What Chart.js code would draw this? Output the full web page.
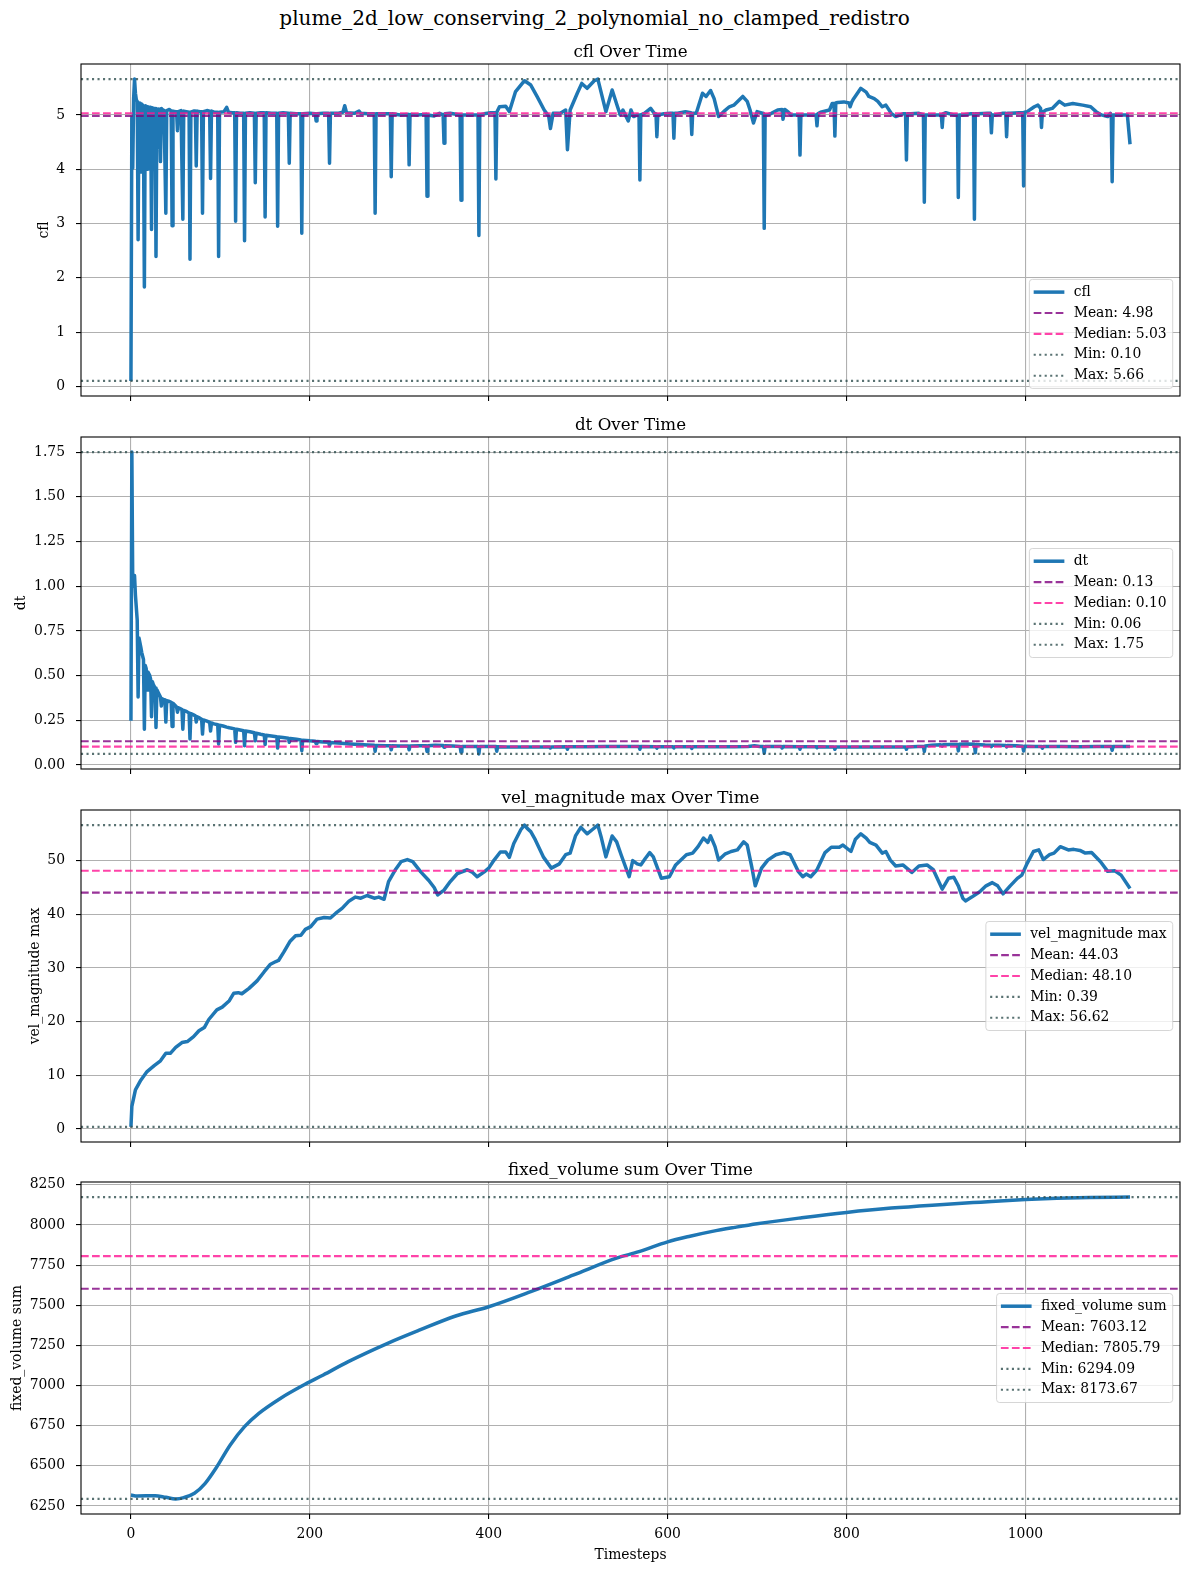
<!DOCTYPE html>
<html>
<head>
<meta charset="utf-8">
<title>plume_2d_low_conserving_2_polynomial_no_clamped_redistro</title>
<script src="https://cdn.jsdelivr.net/npm/chart.js@4.4.1/dist/chart.umd.min.js"></script>
<style>
  html, body { margin: 0; padding: 0; background: #fff; }
  body { width: 1189px; height: 1572px; position: relative; overflow: hidden; font-family: 'DejaVu Serif', serif; }
  #suptitle { position: absolute; left: 0; top: 5px; width: 1189px; text-align: center; font-size: 20px; line-height: 26px; color: #000; }
  canvas { position: absolute; left: 0; }
</style>
</head>
<body>
<div id="suptitle">plume_2d_low_conserving_2_polynomial_no_clamped_redistro</div>
<canvas id="cflChart"></canvas>
<canvas id="dtChart"></canvas>
<canvas id="velChart"></canvas>
<canvas id="volChart"></canvas>
<script>
Chart.defaults.font.family = "'DejaVu Serif', serif";
Chart.defaults.color = '#000';

// cfl per timestep
const cflSteps = [
  0, 1, 2, 3, 4, 5, 6, 7, 8, 9,
  10, 11, 12, 13, 14, 15, 16, 17, 18, 19,
  20, 21, 22, 23, 24, 25, 26, 27, 28, 29,
  30, 31, 32, 33, 34, 35, 37, 38, 39, 40,
  43, 45, 46, 47, 50, 51, 52, 53, 56, 57,
  58, 59, 62, 65, 66, 67, 70, 72, 73, 74,
  77, 79, 80, 81, 85, 88, 89, 90, 93, 97,
  98, 99, 104, 107, 109, 113, 116, 117, 118, 122,
  126, 127, 128, 133, 138, 139, 140, 145, 149, 150,
  151, 157, 163, 164, 165, 170, 176, 177, 178, 185,
  190, 191, 192, 200, 206, 207, 208, 215, 221, 222,
  223, 232, 237, 239, 241, 250, 255, 257, 265, 272,
  273, 274, 282, 290, 291, 292, 301, 310, 311, 312,
  320, 330, 331, 332, 339, 345, 349, 350, 351, 357,
  368, 369, 370, 376, 388, 389, 390, 395, 402, 407,
  408, 409, 412, 419, 423, 430, 440, 447, 454, 462,
  467, 469, 472, 480, 486, 488, 491, 499, 504, 510,
  518, 522, 531, 538, 544, 547, 550, 556, 559, 562,
  566, 568, 569, 570, 574, 581, 585, 587, 588, 589,
  596, 603, 606, 607, 608, 611, 620, 626, 627, 628,
  632, 639, 643, 648, 652, 657, 664, 669, 674, 684,
  689, 692, 696, 700, 706, 707, 708, 709, 712, 716,
  723, 728, 729, 731, 735, 738, 745, 747, 748, 749,
  753, 762, 766, 767, 768, 771, 781, 784, 786, 787,
  788, 790, 797, 803, 804, 806, 808, 816, 822, 825,
  831, 835, 840, 844, 850, 855, 863, 866, 867, 868,
  872, 881, 886, 887, 888, 891, 902, 906, 907, 908,
  911, 920, 924, 925, 926, 930, 939, 942, 943, 944,
  947, 958, 961, 962, 963, 966, 975, 978, 979, 980,
  983, 993, 997, 998, 999, 1002, 1010, 1014, 1017, 1018,
  1019, 1023, 1030, 1038, 1044, 1053, 1064, 1073, 1079, 1085,
  1092, 1095, 1096, 1097, 1098, 1101, 1114, 1117
];
const cflValues = [
  0.10, 4.95, 4.02, 5.30, 5.66, 5.40, 5.28, 5.25, 2.70, 5.22,
  5.20, 3.95, 5.20, 5.18, 4.60, 1.83, 5.17, 5.16, 4.00, 5.15,
  4.30, 5.14, 5.14, 2.89, 5.13, 4.10, 5.12, 5.12, 2.39, 5.11,
  4.40, 5.11, 5.10, 4.14, 5.12, 5.10, 5.08, 5.08, 3.19, 5.08,
  5.10, 5.07, 2.96, 5.07, 5.06, 5.06, 4.71, 5.06, 5.08, 5.08,
  3.08, 5.07, 5.06, 5.05, 2.34, 5.05, 5.07, 5.07, 4.06, 5.07,
  5.06, 5.06, 3.19, 5.06, 5.08, 5.07, 3.83, 5.07, 5.05, 5.05,
  2.39, 5.05, 5.06, 5.14, 5.05, 5.04, 5.04, 3.04, 5.04, 5.03,
  5.03, 2.68, 5.03, 5.04, 5.03, 3.75, 5.03, 5.04, 5.04, 3.12,
  5.04, 5.03, 5.03, 2.95, 5.03, 5.04, 5.03, 4.11, 5.03, 5.02,
  5.02, 2.82, 5.02, 5.03, 5.02, 4.89, 5.02, 5.03, 5.03, 4.11,
  5.03, 5.03, 5.05, 5.17, 5.04, 5.03, 5.07, 5.03, 5.02, 5.02,
  3.19, 5.02, 5.02, 5.02, 3.86, 5.02, 5.00, 5.01, 4.08, 5.01,
  5.00, 5.01, 3.50, 5.00, 4.98, 5.03, 5.00, 4.48, 5.02, 5.03,
  5.00, 3.43, 5.00, 5.00, 5.00, 2.78, 5.00, 5.02, 5.04, 5.04,
  3.82, 5.05, 5.15, 5.16, 5.06, 5.43, 5.63, 5.55, 5.34, 5.09,
  4.98, 4.75, 5.03, 5.03, 5.09, 4.36, 5.09, 5.40, 5.58, 5.49,
  5.63, 5.66, 5.06, 5.46, 5.15, 5.00, 5.09, 4.89, 5.09, 4.97,
  5.00, 5.00, 3.80, 5.00, 5.03, 5.12, 5.03, 5.02, 4.60, 5.00,
  5.02, 5.03, 5.03, 4.57, 5.03, 5.03, 5.06, 5.04, 4.64, 5.03,
  5.03, 5.40, 5.34, 5.45, 5.30, 4.97, 5.08, 5.15, 5.18, 5.34,
  5.25, 5.10, 4.85, 5.06, 5.03, 5.03, 2.91, 5.00, 5.00, 5.03,
  5.09, 5.10, 4.92, 5.10, 5.05, 5.00, 5.00, 5.00, 4.26, 5.00,
  5.00, 5.00, 5.00, 4.80, 5.02, 5.05, 5.09, 5.21, 5.21, 4.61,
  5.22, 5.23, 5.24, 5.22, 5.15, 5.24, 5.30, 5.49, 5.42, 5.34,
  5.30, 5.25, 5.15, 5.18, 5.03, 4.97, 5.02, 5.02, 4.17, 5.02,
  5.02, 5.03, 5.00, 3.39, 5.00, 5.00, 5.00, 5.00, 4.77, 5.02,
  5.04, 5.00, 5.00, 3.48, 5.00, 5.00, 5.02, 5.02, 3.08, 5.02,
  5.02, 5.03, 5.03, 4.67, 5.00, 5.00, 5.03, 5.03, 4.60, 5.03,
  5.03, 5.04, 5.04, 3.69, 5.05, 5.06, 5.15, 5.18, 5.12, 4.77,
  5.05, 5.09, 5.12, 5.25, 5.18, 5.21, 5.18, 5.15, 5.06, 5.00,
  4.97, 5.03, 5.00, 3.77, 5.00, 5.00, 5.00, 4.46
];

// dt per timestep
const dtSteps = [
  0, 1, 2, 3, 4, 5, 7, 8, 9, 11,
  12, 14, 15, 16, 17, 18, 19, 21, 22, 23,
  24, 25, 26, 27, 28, 29, 31, 32, 33, 34,
  35, 37, 38, 39, 40, 42, 45, 46, 47, 50,
  51, 52, 53, 55, 57, 58, 59, 62, 65, 66,
  67, 70, 72, 73, 74, 77, 79, 80, 81, 85,
  88, 89, 90, 93, 97, 98, 99, 103, 107, 110,
  116, 117, 118, 122, 126, 127, 128, 133, 138, 139,
  140, 145, 149, 150, 151, 157, 163, 164, 165, 170,
  176, 177, 178, 185, 190, 191, 192, 200, 206, 207,
  208, 215, 221, 222, 223, 235, 245, 255, 265, 272,
  273, 274, 285, 290, 291, 292, 300, 310, 311, 312,
  322, 330, 331, 332, 340, 349, 350, 351, 360, 368,
  369, 370, 380, 388, 389, 390, 400, 408, 409, 410,
  420, 440, 460, 468, 469, 470, 487, 488, 489, 510,
  530, 555, 568, 569, 570, 587, 588, 589, 606, 607,
  608, 626, 627, 628, 650, 675, 690, 697, 703, 707,
  708, 709, 720, 727, 728, 729, 747, 748, 749, 766,
  767, 768, 786, 787, 788, 810, 830, 850, 866, 867,
  868, 880, 886, 887, 888, 895, 905, 907, 908, 915,
  924, 925, 926, 935, 943, 944, 945, 955, 961, 962,
  963, 970, 978, 979, 980, 990, 997, 998, 999, 1010,
  1018, 1019, 1020, 1040, 1060, 1080, 1096, 1097, 1098, 1117
];
const dtValues = [
  0.248, 1.75, 1.00, 1.03, 1.06, 0.95, 0.81, 0.38, 0.71, 0.66,
  0.63, 0.59, 0.20, 0.556, 0.54, 0.42, 0.52, 0.50, 0.48, 0.27,
  0.465, 0.45, 0.44, 0.43, 0.21, 0.42, 0.40, 0.39, 0.38, 0.33,
  0.37, 0.365, 0.362, 0.24, 0.36, 0.357, 0.35, 0.215, 0.345, 0.33,
  0.325, 0.295, 0.32, 0.315, 0.31, 0.20, 0.305, 0.30, 0.29, 0.146,
  0.287, 0.28, 0.275, 0.24, 0.27, 0.262, 0.256, 0.173, 0.252, 0.245,
  0.238, 0.19, 0.235, 0.23, 0.225, 0.118, 0.222, 0.218, 0.212, 0.208,
  0.202, 0.127, 0.20, 0.196, 0.192, 0.108, 0.19, 0.186, 0.18, 0.136,
  0.178, 0.172, 0.168, 0.114, 0.166, 0.162, 0.158, 0.095, 0.157, 0.154,
  0.15, 0.127, 0.148, 0.144, 0.14, 0.08, 0.139, 0.135, 0.133, 0.12,
  0.132, 0.129, 0.127, 0.108, 0.126, 0.122, 0.118, 0.115, 0.112, 0.11,
  0.077, 0.109, 0.107, 0.107, 0.085, 0.107, 0.106, 0.106, 0.085, 0.106,
  0.107, 0.108, 0.075, 0.108, 0.11, 0.109, 0.099, 0.108, 0.106, 0.104,
  0.072, 0.104, 0.103, 0.103, 0.062, 0.103, 0.103, 0.103, 0.077, 0.102,
  0.101, 0.10, 0.101, 0.101, 0.095, 0.101, 0.102, 0.088, 0.102, 0.102,
  0.103, 0.104, 0.103, 0.088, 0.103, 0.102, 0.094, 0.102, 0.102, 0.095,
  0.102, 0.102, 0.093, 0.102, 0.102, 0.102, 0.104, 0.108, 0.104, 0.103,
  0.066, 0.103, 0.104, 0.103, 0.095, 0.103, 0.102, 0.088, 0.102, 0.102,
  0.097, 0.102, 0.101, 0.088, 0.101, 0.101, 0.101, 0.101, 0.101, 0.088,
  0.101, 0.103, 0.104, 0.076, 0.106, 0.11, 0.113, 0.106, 0.113, 0.114,
  0.115, 0.079, 0.116, 0.118, 0.116, 0.068, 0.115, 0.112, 0.111, 0.103,
  0.111, 0.11, 0.109, 0.101, 0.109, 0.107, 0.105, 0.078, 0.105, 0.104,
  0.103, 0.094, 0.103, 0.103, 0.102, 0.103, 0.103, 0.082, 0.103, 0.103
];

// vel_magnitude max per timestep
const velSteps = [
  0, 1, 5, 11, 18, 26, 33, 39, 44, 50,
  57, 63, 70, 76, 82, 87, 96, 102, 110, 115,
  120, 124, 132, 141, 149, 156, 162, 165, 171, 178,
  184, 190, 195, 201, 208, 216, 223, 229, 236, 244,
  251, 257, 264, 272, 277, 283, 288, 296, 302, 309,
  315, 324, 333, 339, 343, 350, 357, 365, 376, 382,
  387, 395, 400, 406, 413, 419, 423, 428, 436, 440,
  443, 447, 452, 461, 470, 479, 486, 491, 497, 503,
  510, 516, 522, 526, 531, 538, 543, 548, 557, 561,
  566, 570, 575, 580, 584, 593, 602, 609, 621, 628,
  634, 640, 645, 648, 653, 657, 664, 671, 678, 685,
  689, 694, 698, 705, 712, 721, 730, 737, 746, 751,
  755, 760, 767, 776, 783, 792, 796, 805, 810, 816,
  822, 826, 833, 840, 844, 849, 855, 863, 873, 881,
  890, 897, 907, 914, 920, 925, 930, 933, 940, 949,
  956, 963, 969, 975, 983, 991, 996, 1002, 1009, 1015,
  1020, 1027, 1032, 1039, 1048, 1054, 1061, 1067, 1074, 1084,
  1092, 1100, 1107, 1117
];
const velValues = [
  0.39, 4.2, 7.3, 9.1, 10.7, 11.8, 12.7, 14.1, 14.1, 15.2,
  16.1, 16.3, 17.2, 18.3, 18.9, 20.4, 22.2, 22.7, 23.9, 25.3,
  25.4, 25.2, 26.2, 27.6, 29.3, 30.7, 31.2, 31.4, 33.0, 35.0,
  36.0, 36.1, 37.2, 37.7, 39.1, 39.4, 39.3, 40.2, 41.1, 42.5,
  43.2, 43.0, 43.5, 43.0, 43.2, 42.8, 46.1, 48.4, 49.8, 50.2,
  49.8, 47.9, 46.3, 45.0, 43.6, 44.5, 46.1, 47.6, 48.3, 47.8,
  47.0, 47.9, 48.6, 50.1, 51.6, 51.6, 50.6, 53.2, 55.8, 56.62,
  56.0, 55.4, 53.9, 50.7, 48.6, 49.4, 51.1, 51.4, 54.6, 56.2,
  55.0, 55.8, 56.6, 54.2, 50.7, 54.6, 53.5, 51.1, 47.0, 50.0,
  49.4, 49.2, 50.4, 51.5, 50.7, 46.7, 47.0, 49.2, 51.1, 51.4,
  52.6, 54.2, 53.4, 54.6, 52.6, 50.1, 51.2, 51.7, 52.0, 53.5,
  52.9, 48.9, 45.3, 48.6, 50.1, 51.1, 51.5, 51.1, 48.0, 47.0,
  47.5, 47.0, 48.3, 51.5, 52.5, 52.5, 52.9, 51.7, 54.0, 55.0,
  54.2, 53.4, 52.9, 51.4, 51.7, 50.1, 49.0, 49.2, 47.8, 49.0,
  49.2, 48.3, 44.7, 46.7, 46.9, 45.3, 43.0, 42.5, 43.2, 44.2,
  45.3, 45.9, 45.3, 43.8, 45.3, 46.7, 47.3, 49.5, 51.7, 52.0,
  50.2, 51.1, 51.4, 52.6, 52.0, 52.1, 51.9, 51.4, 51.5, 49.8,
  48.0, 48.1, 47.3, 44.8
];

// fixed_volume sum per timestep
const volSteps = [0, 7, 27, 39, 50, 59, 71, 83, 95, 111, 127, 143, 167, 191, 215, 243, 287, 323, 363, 400,
  447, 495, 542, 568, 600, 625, 650, 675, 700, 750, 800, 850, 900, 950, 1000, 1035, 1072, 1117];
const volValues = [6318, 6312, 6314, 6304, 6294.09, 6302, 6329, 6391, 6485, 6630, 6744, 6827, 6920, 6997, 7066, 7149, 7263, 7346, 7433, 7491,
  7585, 7689, 7792, 7834, 7895, 7930, 7960, 7985, 8008, 8045, 8078, 8105, 8125, 8142, 8158, 8166, 8171, 8173.67];

// mean, median, min, max
const cflStats = [4.98, 5.03, 0.10, 5.66];
const dtStats = [0.133, 0.103, 0.062, 1.75];
const velStats = [44.03, 48.10, 0.39, 56.62];
const volStats = [7603.12, 7805.79, 6294.09, 8173.67];

const xTicks = [0, 200, 400, 600, 800, 1000];
const cflTicks = [0, 1, 2, 3, 4, 5];
const dtTicks = [0, 0.25, 0.5, 0.75, 1, 1.25, 1.5, 1.75];
const velTicks = [0, 10, 20, 30, 40, 50];
const volTicks = [6250, 6500, 6750, 7000, 7250, 7500, 7750, 8000, 8250];

const statNames = ['Mean', 'Median', 'Min', 'Max'];
const statColors = ['rgba(128,0,128,0.8)', 'rgba(255,20,147,0.8)', 'rgba(47,79,79,0.8)', 'rgba(47,79,79,0.8)'];
const statDash = [[7.7, 3.3], [7.7, 3.3], [2.1, 3.4], [2.1, 3.4]];

const lastStep = cflSteps[cflSteps.length - 1];
const xMin = -0.05 * lastStep, xMax = 1.05 * lastStep;

// figure geometry (px)
const AX_LEFT = 81, AX_RIGHT = 1180, AX_H = 332, TITLE_H = 23;
const axesTops = [64, 437, 810, 1182];

// spines + matplotlib-style legend box inside the axes
const boxLegend = {
  id: 'boxLegend',
  afterDatasetsDraw(chart, args, opts) {
    const ctx = chart.ctx, a = chart.chartArea;
    ctx.save();
    ctx.strokeStyle = '#000';
    ctx.lineWidth = 1.1;
    ctx.strokeRect(a.left, a.top, a.right - a.left, a.bottom - a.top);

    ctx.font = "13.9px 'DejaVu Serif'";
    const items = chart.data.datasets;
    const textW = Math.max(...items.map(d => ctx.measureText(d.label).width));
    const w = 44.3 + textW + 6, h = 109, row = 20.9;
    const x = a.right - 7.3 - w;
    const y = opts.loc === 'lower right' ? a.bottom - 7.6 - h : (a.top + a.bottom) / 2 - h / 2;
    ctx.beginPath();
    ctx.roundRect(x, y, w, h, 3);
    ctx.fillStyle = 'rgba(255,255,255,0.8)';
    ctx.fill();
    ctx.strokeStyle = 'rgba(204,204,204,0.8)';
    ctx.lineWidth = 1;
    ctx.stroke();
    items.forEach((d, k) => {
      const cy = y + 12.7 + k * row;
      ctx.beginPath();
      ctx.setLineDash(d.borderDash || []);
      ctx.lineWidth = d.borderWidth;
      ctx.strokeStyle = d.borderColor;
      ctx.lineCap = 'butt';
      ctx.moveTo(x + 4.3, cy);
      ctx.lineTo(x + 35, cy);
      ctx.stroke();
      ctx.setLineDash([]);
      ctx.fillStyle = '#000';
      ctx.textBaseline = 'middle';
      ctx.textAlign = 'left';
      ctx.fillText(d.label, x + 44.3, cy);
    });
    ctx.restore();
  }
};

function panel(id, i, p) {
  const canvas = document.getElementById(id);
  const last = i === 3;
  const xAxisH = last ? 1572 - (axesTops[i] + AX_H) : 12;
  const h = TITLE_H + AX_H + xAxisH;
  canvas.width = 1189;
  canvas.height = h;
  canvas.style.width = '1189px';
  canvas.style.height = h + 'px';
  canvas.style.top = (axesTops[i] - TITLE_H) + 'px';

  const span = p.stats[3] - p.stats[2];
  const datasets = [{
    label: p.name,
    data: p.steps.map((t, k) => ({x: t, y: p.values[k]})),
    borderColor: '#1f77b4',
    borderWidth: 3.5,
    borderJoinStyle: 'round',
    cubicInterpolationMode: p.smooth ? 'monotone' : 'default',
    order: 1
  }];
  p.stats.forEach((v, k) => datasets.push({
    label: statNames[k] + ': ' + v.toFixed(2),
    data: [{x: xMin, y: v}, {x: xMax, y: v}],
    borderColor: statColors[k],
    borderWidth: 2.1,
    borderDash: statDash[k],
    order: 0
  }));

  const grid = {color: '#b0b0b0', lineWidth: 1.1, tickColor: '#000', tickLength: 5, tickWidth: 1.1};

  new Chart(canvas, {
    type: 'line',
    data: {datasets: datasets},
    options: {
      responsive: false,
      animation: false,
      events: [],
      elements: {point: {radius: 0}, line: {tension: 0}},
      layout: {padding: {left: 0, right: 1189 - AX_RIGHT, top: 0, bottom: 0}},
      scales: {
        x: {
          type: 'linear',
          min: xMin,
          max: xMax,
          afterBuildTicks: s => { s.ticks = xTicks.map(v => ({value: v})); },
          afterFit: s => { s.height = xAxisH; s.paddingLeft = 0; s.paddingRight = 0; },
          ticks: {callback: v => last ? String(v) : '', padding: 7, font: {size: 13.9}, color: '#000', maxRotation: 0, autoSkip: false},
          grid: grid,
          border: {display: false},
          title: {display: last, text: 'Timesteps', font: {size: 13.9, lineHeight: '17px'}, padding: {top: 0, bottom: 8.5}, color: '#000'}
        },
        y: {
          type: 'linear',
          min: p.stats[2] - 0.05 * span,
          max: p.stats[3] + 0.05 * span,
          afterBuildTicks: s => { s.ticks = p.ticks.map(v => ({value: v})); },
          afterFit: s => { s.width = AX_LEFT; s.paddingTop = 0; s.paddingBottom = 0; },
          ticks: {callback: p.fmt, padding: 11, font: {size: 13.9}, color: '#000', autoSkip: false},
          grid: grid,
          border: {display: false},
          title: {display: true, text: p.ylabel, font: {size: 13.9, lineHeight: '17px'}, padding: {top: p.ylabelPad, bottom: 0}, color: '#000'}
        }
      },
      plugins: {
        legend: {display: false},
        tooltip: {enabled: false},
        title: {
          display: true,
          text: p.title,
          fullSize: false,
          font: {size: 16.7, weight: 'normal', lineHeight: '20px'},
          padding: {top: 2, bottom: 1},
          color: '#000'
        },
        boxLegend: {loc: p.loc}
      }
    },
    plugins: [boxLegend]
  });
}

panel('cflChart', 0, {
  name: 'cfl', title: 'cfl Over Time', ylabel: 'cfl', ylabelPad: 35.8,
  steps: cflSteps, values: cflValues, stats: cflStats, ticks: cflTicks,
  fmt: v => String(v), loc: 'lower right'
});
panel('dtChart', 1, {
  name: 'dt', title: 'dt Over Time', ylabel: 'dt', ylabelPad: 13.2,
  steps: dtSteps, values: dtValues, stats: dtStats, ticks: dtTicks,
  fmt: v => v.toFixed(2), loc: 'center right'
});
panel('velChart', 2, {
  name: 'vel_magnitude max', title: 'vel_magnitude max Over Time', ylabel: 'vel_magnitude max', ylabelPad: 26.8,
  steps: velSteps, values: velValues, stats: velStats, ticks: velTicks,
  fmt: v => String(v), loc: 'center right'
});
panel('volChart', 3, {
  name: 'fixed_volume sum', title: 'fixed_volume sum Over Time', ylabel: 'fixed_volume sum', ylabelPad: 9.1,
  steps: volSteps, values: volValues, stats: volStats, ticks: volTicks,
  fmt: v => String(v), loc: 'center right', smooth: true
});
</script>
</body>
</html>
